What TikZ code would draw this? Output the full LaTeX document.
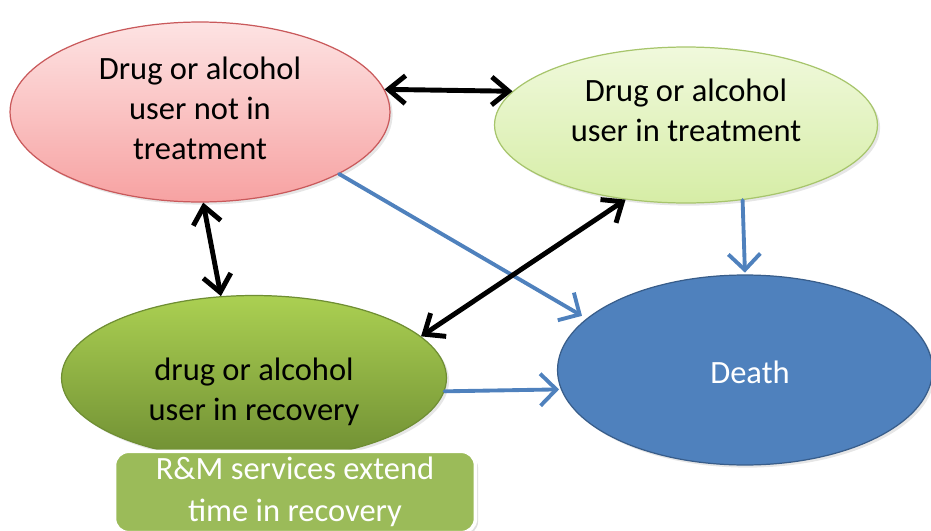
\documentclass[tikz,border=0pt]{standalone}
\usepackage{fontspec}
\setmainfont{Carlito}
\usepackage{tikz}
\usetikzlibrary{arrows.meta,shapes.geometric,shadows}
\definecolor{Rose_Top}{HTML}{FDE3E3}
\definecolor{Rose_Bottom}{HTML}{F7A2A2}
\definecolor{Rose_Line}{HTML}{C9595B}
\definecolor{Lime_Top}{HTML}{F0F9DC}
\definecolor{Lime_Bottom}{HTML}{D6EDA6}
\definecolor{Lime_Line}{HTML}{A7C56C}
\definecolor{Leaf_Top}{HTML}{ABD052}
\definecolor{Leaf_Bottom}{HTML}{6F8E33}
\definecolor{Sky_Blue}{HTML}{4F81BD}
\definecolor{Navy_Line}{HTML}{385D8A}
\definecolor{Olive_Box}{HTML}{9BBB59}

\begin{document}
\begin{tikzpicture}[x=0.02cm, y=-0.02cm,
    state/.style={ellipse, draw, line width=0.7pt, inner sep=0pt,
        drop shadow={opacity=0.2, shadow xshift=1.5pt, shadow yshift=-1.5pt}},
    statetext/.style={align=center, font=\fontsize{18.5}{22.8}\selectfont},
    twoway/.style={{Straight Barb[length=3.4mm,width=5.6mm]}-{Straight Barb[length=3.4mm,width=5.6mm]},
        line width=2.8pt, line cap=round, line join=round},
    oneway/.style={-{Straight Barb[length=3.2mm,width=6.4mm]}, line width=2.2pt,
        Sky_Blue, line cap=round, line join=round}]
    % Page frame
    \useasboundingbox (0,0) rectangle (931,531);

    % States
    \node[state, draw=Rose_Line, top color=Rose_Top, bottom color=Rose_Bottom,
        minimum width=7.6cm, minimum height=3.6cm] (notreat) at (200,112) {};
    \node[statetext] (notreattxt) at (200,108) {Drug or alcohol\\user not in\\treatment};

    \node[state, draw=Lime_Line, top color=Lime_Top, bottom color=Lime_Bottom,
        minimum width=7.66cm, minimum height=3.12cm] (treat) at (686,125) {};
    \node[statetext] (treattxt) at (686,110) {Drug or alcohol\\user in treatment};

    \node[state, draw=Leaf_Bottom, top color=Leaf_Top, bottom color=Leaf_Bottom,
        minimum width=7.7cm, minimum height=3.3cm] (recov) at (254,378) {};
    \node[statetext] (recovtxt) at (254,392) {drug or alcohol\\user in recovery};

    \node[state, draw=Navy_Line, fill=Sky_Blue, text=white,
        minimum width=7.5cm, minimum height=3.8cm] (death) at (745,370) {};
    \node[statetext, text=white] (deathtxt) at (750,372) {Death};

    % Transitions to death
    \draw[oneway, shorten >=3pt] (notreat.-24) -- (death.162);
    \draw[oneway, shorten >=1pt] (treat.-53) -- (death.north);
    \draw[oneway, shorten >=1pt] (recov.-4) -- (death.186);

    % Two-way transitions
    \draw[twoway] (notreat.7) -- (treat.169);
    \draw[twoway] (notreat.-88) -- (recov.112);
    \draw[twoway] (treat.-129) -- (recov.14);

    % Recovery services note
    \node[draw=white, line width=2pt, fill=Olive_Box, rounded corners=8pt, text=white,
        align=center, font=\fontsize{18.5}{23.8}\selectfont,
        drop shadow={opacity=0.25, shadow xshift=1.5pt, shadow yshift=-1.5pt},
        minimum width=7.22cm, minimum height=1.5cm] (rmnote) at (295,492)
        {R\&M services extend\\time in recovery};
\end{tikzpicture}
\end{document}
